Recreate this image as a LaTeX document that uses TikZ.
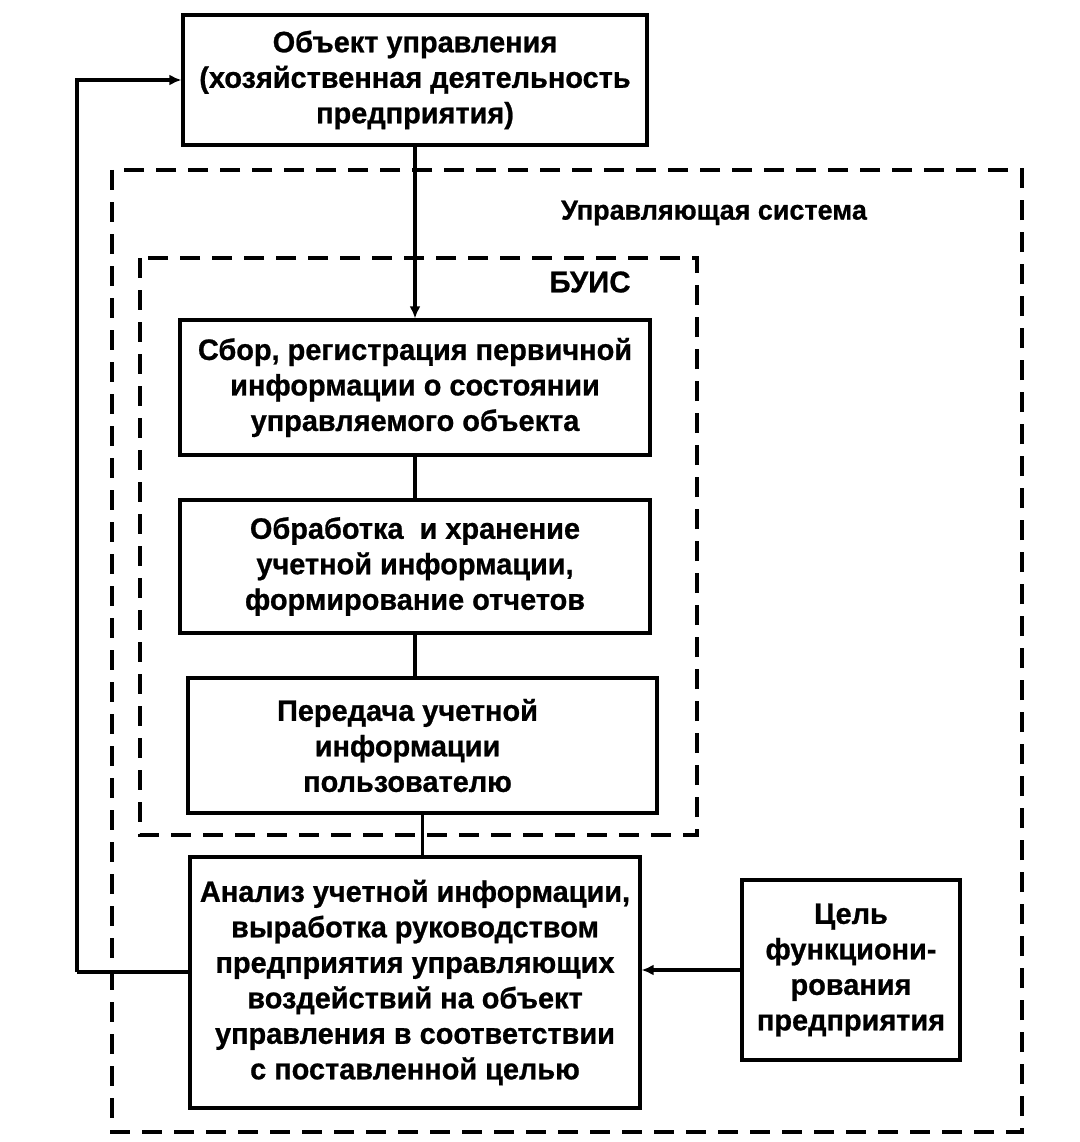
\documentclass[tikz,border=0pt]{standalone}
\usepackage{fontspec}
\setmainfont{Liberation Sans}[FakeStretch=0.98, BoldFeatures={FakeBold=0.8}]
\usetikzlibrary{arrows.meta}
\tikzset{
  box/.style={draw, line width=3.2pt, align=center, inner sep=0pt, font=\fontsize{29.5}{35.5}\selectfont\bfseries},
  dbox/.style={draw, line width=3.2pt, dash pattern=on 20pt off 12pt},
  conn/.style={line width=3.2pt},
  arr/.style={line width=3.2pt, -{Latex[length=12pt,width=11pt]}},
  lbl/.style={font=\fontsize{30}{35}\selectfont\bfseries, inner sep=0pt}
}
\begin{document}
\begin{tikzpicture}[x=1pt,y=-1pt]
\useasboundingbox (0,0) rectangle (1079,1142);
% dashed frames
\draw[dbox] (112,170) rectangle (1022,1132);
\draw[dbox] (140,258) rectangle (697,835);
\node[lbl, font=\fontsize{27.5}{33}\selectfont\bfseries] (us) at (714,213) {Управляющая система};
\node[lbl] (buis) at (590,282) {БУИС};
% boxes
\node[box, minimum width=464pt, minimum height=130pt] (top) at (415,80)
  {Объект управления\\(хозяйственная деятельность\\предприятия)};
\node[box, minimum width=470pt, minimum height=135pt] (sbor) at (415,387.5)
  {Сбор, регистрация первичной\\информации о состоянии\\управляемого объекта};
\node[box, minimum width=470pt, minimum height=133pt] (obr) at (415,566.5)
  {Обработка \ и хранение\\учетной информации,\\формирование отчетов};
\node[box, minimum width=469pt, minimum height=135pt] (per) at (422.5,745.5)
  {\hspace*{-30pt}Передача учетной\\\hspace*{-30pt}информации\\\hspace*{-30pt}пользователю};
\node[box, minimum width=450pt, minimum height=251pt] (an) at (415,982.5)
  {Анализ учетной информации,\\выработка руководством\\предприятия управляющих\\воздействий на объект\\управления в соответствии\\с поставленной целью};
\node[box, minimum width=218pt, minimum height=180pt] (goal) at (851,970)
  {Цель\\функциони-\\рования\\предприятия};
% connectors
\draw[arr] (top.south) -- (sbor.north);
\draw[conn] (sbor.south) -- (obr.north);
\draw[conn] (obr.south) -- (obr.south |- per.north);
\draw[conn] (per.south) -- (per.south |- an.north);
\draw[arr] (goal.west) -- (an.east |- goal.west);
\coordinate (fb) at (77,972);
\draw[conn] (an.west |- fb) -- (fb);
\draw[arr] (fb) |- (top.west);
\end{tikzpicture}
\end{document}
